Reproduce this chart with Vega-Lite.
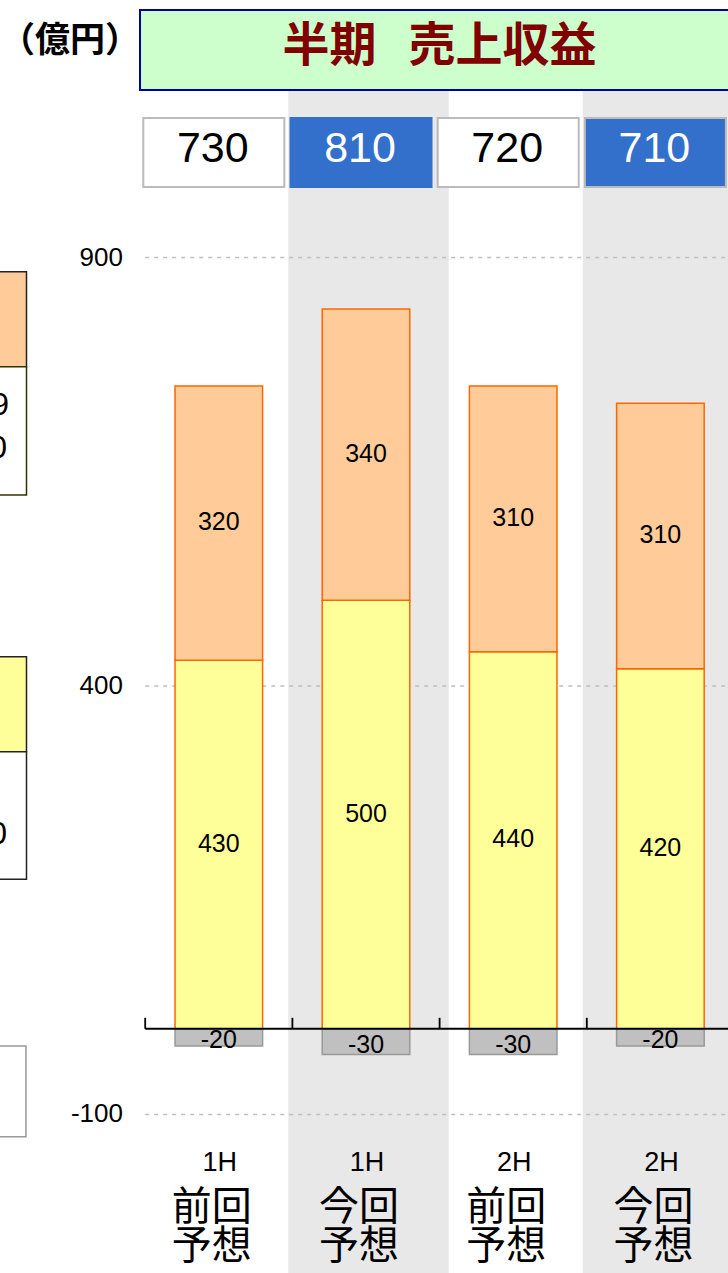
{
  "$schema": "https://vega.github.io/schema/vega-lite/v6.json",
  "width": 728,
  "height": 1273,
  "autosize": {"type": "none"},
  "padding": 0,
  "background": "#FFFFFF",
  "config": {
    "view": {"stroke": null},
    "axis": {"disable": true},
    "legend": {"disable": true},
    "text": {"font": "Liberation Sans", "color": "#000000"}
  },
  "datasets": {
    "segments": [
      {"cat": "1H前回", "seg": "区分1", "v": 430},
      {"cat": "1H前回", "seg": "区分2", "v": 320},
      {"cat": "1H前回", "seg": "調整", "v": -20},
      {"cat": "1H今回", "seg": "区分1", "v": 500},
      {"cat": "1H今回", "seg": "区分2", "v": 340},
      {"cat": "1H今回", "seg": "調整", "v": -30},
      {"cat": "2H前回", "seg": "区分1", "v": 440},
      {"cat": "2H前回", "seg": "区分2", "v": 310},
      {"cat": "2H前回", "seg": "調整", "v": -30},
      {"cat": "2H今回", "seg": "区分1", "v": 420},
      {"cat": "2H今回", "seg": "区分2", "v": 310},
      {"cat": "2H今回", "seg": "調整", "v": -20}
    ],
    "totals": [
      {"cat": "1H前回", "half": "1H", "basis": "前回", "label": "前回\n予想", "total": 730},
      {"cat": "1H今回", "half": "1H", "basis": "今回", "label": "今回\n予想", "total": 810},
      {"cat": "2H前回", "half": "2H", "basis": "前回", "label": "前回\n予想", "total": 720},
      {"cat": "2H今回", "half": "2H", "basis": "今回", "label": "今回\n予想", "total": 710}
    ],
    "grid": [{"t": 900}, {"t": 400}, {"t": -100}],
    "one": [{}]
  },
  "layer": [
    {
      "data": {"name": "totals"},
      "transform": [{"filter": "datum.basis === '今回'"}],
      "mark": {"type": "bar", "fill": "#E8E8E8", "width": {"band": 1.09}, "xOffset": 2.5, "clip": true},
      "encoding": {
        "x": {
          "field": "cat",
          "type": "nominal",
          "scale": {
            "type": "band",
            "domain": ["左", "1H前回", "1H今回", "2H前回", "2H今回"],
            "range": [-2, 734],
            "paddingInner": 0,
            "paddingOuter": 0
          },
          "axis": null
        },
        "y": {
          "datum": 1095.5,
          "type": "quantitative",
          "scale": {"domain": [-285, 1200.5], "nice": false, "zero": false},
          "axis": null
        },
        "y2": {"datum": -285}
      }
    },
    {
      "data": {"name": "one"},
      "mark": {"type": "rect", "fill": "#FFCC99", "stroke": "#222222", "strokeWidth": 1.5, "xOffset": -10, "clip": true},
      "encoding": {
        "x": {"datum": "左", "bandPosition": 0},
        "x2": {"datum": "左", "bandPosition": 0.1936},
        "y": {"datum": 883.4, "type": "quantitative"},
        "y2": {"datum": 772.6}
      }
    },
    {
      "data": {"name": "one"},
      "mark": {"type": "rect", "fill": "#FFFFFF", "stroke": "#333300", "strokeWidth": 1.5, "xOffset": -10, "clip": true},
      "encoding": {
        "x": {"datum": "左", "bandPosition": 0},
        "x2": {"datum": "左", "bandPosition": 0.1936},
        "y": {"datum": 772.6, "type": "quantitative"},
        "y2": {"datum": 622.9}
      }
    },
    {
      "data": {"name": "one"},
      "mark": {"type": "rect", "fill": "#FFFF99", "stroke": "#222222", "strokeWidth": 1.5, "xOffset": -10, "clip": true},
      "encoding": {
        "x": {"datum": "左", "bandPosition": 0},
        "x2": {"datum": "左", "bandPosition": 0.1936},
        "y": {"datum": 434.2, "type": "quantitative"},
        "y2": {"datum": 323.4}
      }
    },
    {
      "data": {"name": "one"},
      "mark": {"type": "rect", "fill": "#FFFFFF", "stroke": "#222222", "strokeWidth": 1.5, "xOffset": -10, "clip": true},
      "encoding": {
        "x": {"datum": "左", "bandPosition": 0},
        "x2": {"datum": "左", "bandPosition": 0.1936},
        "y": {"datum": 323.4, "type": "quantitative"},
        "y2": {"datum": 174.5}
      }
    },
    {
      "data": {"name": "one"},
      "mark": {"type": "rect", "fill": "#FFFFFF", "stroke": "#999999", "strokeWidth": 1.5, "xOffset": -10, "clip": true},
      "encoding": {
        "x": {"datum": "左", "bandPosition": 0},
        "x2": {"datum": "左", "bandPosition": 0.19},
        "y": {"datum": -20.1, "type": "quantitative"},
        "y2": {"datum": -125.9}
      }
    },
    {
      "data": {"name": "one"},
      "mark": {"type": "text", "text": "309", "align": "right", "baseline": "middle", "fontSize": 32, "clip": true},
      "encoding": {
        "x": {"datum": "左", "bandPosition": 0.0747},
        "y": {"datum": 727.9, "type": "quantitative"}
      }
    },
    {
      "data": {"name": "one"},
      "mark": {"type": "text", "text": "320", "align": "right", "baseline": "middle", "fontSize": 32, "clip": true},
      "encoding": {
        "x": {"datum": "左", "bandPosition": 0.062},
        "y": {"datum": 677.2, "type": "quantitative"}
      }
    },
    {
      "data": {"name": "one"},
      "mark": {"type": "text", "text": "430", "align": "right", "baseline": "middle", "fontSize": 32, "clip": true},
      "encoding": {
        "x": {"datum": "左", "bandPosition": 0.062},
        "y": {"datum": 227.3, "type": "quantitative"}
      }
    },
    {
      "data": {"name": "grid"},
      "mark": {"type": "rule", "stroke": "#BFBFBF", "strokeWidth": 1.5, "strokeDash": [4, 5], "clip": true},
      "encoding": {
        "x": {"datum": "1H前回", "bandPosition": 0},
        "x2": {"datum": "2H今回", "bandPosition": 1},
        "y": {"field": "t", "type": "quantitative"}
      }
    },
    {
      "data": {"name": "one"},
      "mark": {"type": "rect", "fill": "#CCFFCC", "stroke": "#0000A0", "strokeWidth": 2, "x2Offset": 20, "clip": true},
      "encoding": {
        "x": {"datum": "左", "bandPosition": 0.9647},
        "x2": {"datum": "2H今回", "bandPosition": 1},
        "y": {"datum": 1188.85, "type": "quantitative"},
        "y2": {"datum": 1095.5}
      }
    },
    {
      "data": {"name": "one"},
      "mark": {"type": "text", "text": "半期\u00a0\u00a0\u00a0売上収益", "font": "Noto Sans CJK JP", "fontWeight": "bold", "fontSize": 47, "color": "#800000", "align": "center", "baseline": "middle"},
      "encoding": {
        "x": {"datum": "2H前回", "bandPosition": 0},
        "y": {"datum": 1145.5, "type": "quantitative"}
      }
    },
    {
      "data": {"name": "one"},
      "mark": {"type": "text", "text": "（億円）", "font": "Noto Sans CJK JP", "fontWeight": "bold", "fontSize": 35, "align": "center", "baseline": "middle"},
      "encoding": {
        "x": {"datum": "左", "bandPosition": 0.489},
        "y": {"datum": 1152.7, "type": "quantitative"}
      }
    },
    {
      "data": {"name": "totals"},
      "mark": {"type": "bar", "width": {"band": 0.958}, "xOffset": -5, "strokeWidth": 2, "clip": true},
      "encoding": {
        "x": {"field": "cat", "type": "nominal"},
        "y": {"datum": 1062.8, "type": "quantitative"},
        "y2": {"datum": 982.3},
        "fill": {"condition": {"test": "datum.basis === '今回'", "value": "#3370CC"}, "value": "#FFFFFF"},
        "stroke": {"condition": {"test": "datum.cat === '1H今回'", "value": "#3370CC"}, "value": "#BBBBBB"}
      }
    },
    {
      "data": {"name": "totals"},
      "mark": {"type": "text", "fontSize": 43, "dx": -6, "align": "center", "baseline": "middle"},
      "encoding": {
        "x": {"field": "cat", "type": "nominal"},
        "y": {"datum": 1026.2, "type": "quantitative"},
        "text": {"field": "total", "type": "quantitative"},
        "color": {"condition": {"test": "datum.basis === '今回'", "value": "#FFFFFF"}, "value": "#000000"}
      }
    },
    {
      "data": {"name": "segments"},
      "transform": [
        {"stack": "v", "groupby": ["cat"], "sort": [{"field": "seg", "order": "ascending"}], "as": ["y0", "y1"]}
      ],
      "mark": {"type": "bar", "width": {"band": 0.595}, "strokeWidth": 1.5},
      "encoding": {
        "x": {"field": "cat", "type": "nominal"},
        "y": {"field": "y0", "type": "quantitative"},
        "y2": {"field": "y1"},
        "fill": {
          "field": "seg",
          "type": "nominal",
          "legend": null,
          "scale": {"domain": ["区分1", "区分2", "調整"], "range": ["#FFFF99", "#FFCC99", "#C0C0C0"]}
        },
        "stroke": {
          "field": "seg",
          "type": "nominal",
          "legend": null,
          "scale": {"domain": ["区分1", "区分2", "調整"], "range": ["#FF6600", "#FF6600", "#999999"]}
        }
      }
    },
    {
      "data": {"name": "segments"},
      "transform": [
        {"stack": "v", "groupby": ["cat"], "sort": [{"field": "seg", "order": "ascending"}], "as": ["y0", "y1"]},
        {"calculate": "(datum.y0 + datum.y1) / 2", "as": "mid"},
        {"filter": "datum.v > 0"}
      ],
      "mark": {"type": "text", "fontSize": 25, "dy": -1, "align": "center", "baseline": "middle"},
      "encoding": {
        "x": {"field": "cat", "type": "nominal"},
        "y": {"field": "mid", "type": "quantitative"},
        "text": {"field": "v", "type": "nominal"}
      }
    },
    {
      "data": {"name": "segments"},
      "transform": [
        {"stack": "v", "groupby": ["cat"], "sort": [{"field": "seg", "order": "ascending"}], "as": ["y0", "y1"]},
        {"calculate": "(datum.y0 + datum.y1) / 2", "as": "mid"},
        {"filter": "datum.v < 0"}
      ],
      "mark": {"type": "text", "fontSize": 25, "dy": 3, "align": "center", "baseline": "middle"},
      "encoding": {
        "x": {"field": "cat", "type": "nominal"},
        "y": {"field": "mid", "type": "quantitative"},
        "text": {"field": "v", "type": "nominal"}
      }
    },
    {
      "data": {"name": "one"},
      "mark": {"type": "rule", "stroke": "#000000", "strokeWidth": 1.8, "clip": true},
      "encoding": {
        "x": {"datum": "1H前回", "bandPosition": 0},
        "x2": {"datum": "2H今回", "bandPosition": 1},
        "y": {"datum": 0, "type": "quantitative"}
      }
    },
    {
      "data": {"name": "totals"},
      "mark": {"type": "rule", "stroke": "#000000", "strokeWidth": 1.8},
      "encoding": {
        "x": {"field": "cat", "type": "nominal", "bandPosition": 0},
        "y": {"datum": 0, "type": "quantitative"},
        "y2": {"datum": 12.8}
      }
    },
    {
      "data": {"name": "grid"},
      "mark": {"type": "text", "fontSize": 26, "align": "right", "baseline": "middle"},
      "encoding": {
        "x": {"datum": "左", "bandPosition": 0.849},
        "y": {"field": "t", "type": "quantitative"},
        "text": {"field": "t", "type": "nominal"}
      }
    },
    {
      "data": {"name": "totals"},
      "mark": {"type": "text", "fontSize": 27, "dx": 1, "align": "center", "baseline": "middle"},
      "encoding": {
        "x": {"field": "cat", "type": "nominal"},
        "y": {"datum": -156.6, "type": "quantitative"},
        "text": {"field": "half", "type": "nominal"}
      }
    },
    {
      "data": {"name": "totals"},
      "mark": {"type": "text", "font": "Noto Sans CJK JP", "fontSize": 40, "lineHeight": 39, "lineBreak": "\n", "dx": -7, "align": "center", "baseline": "top"},
      "encoding": {
        "x": {"field": "cat", "type": "nominal"},
        "y": {"datum": -185.5, "type": "quantitative"},
        "text": {"field": "label", "type": "nominal"}
      }
    }
  ]
}
